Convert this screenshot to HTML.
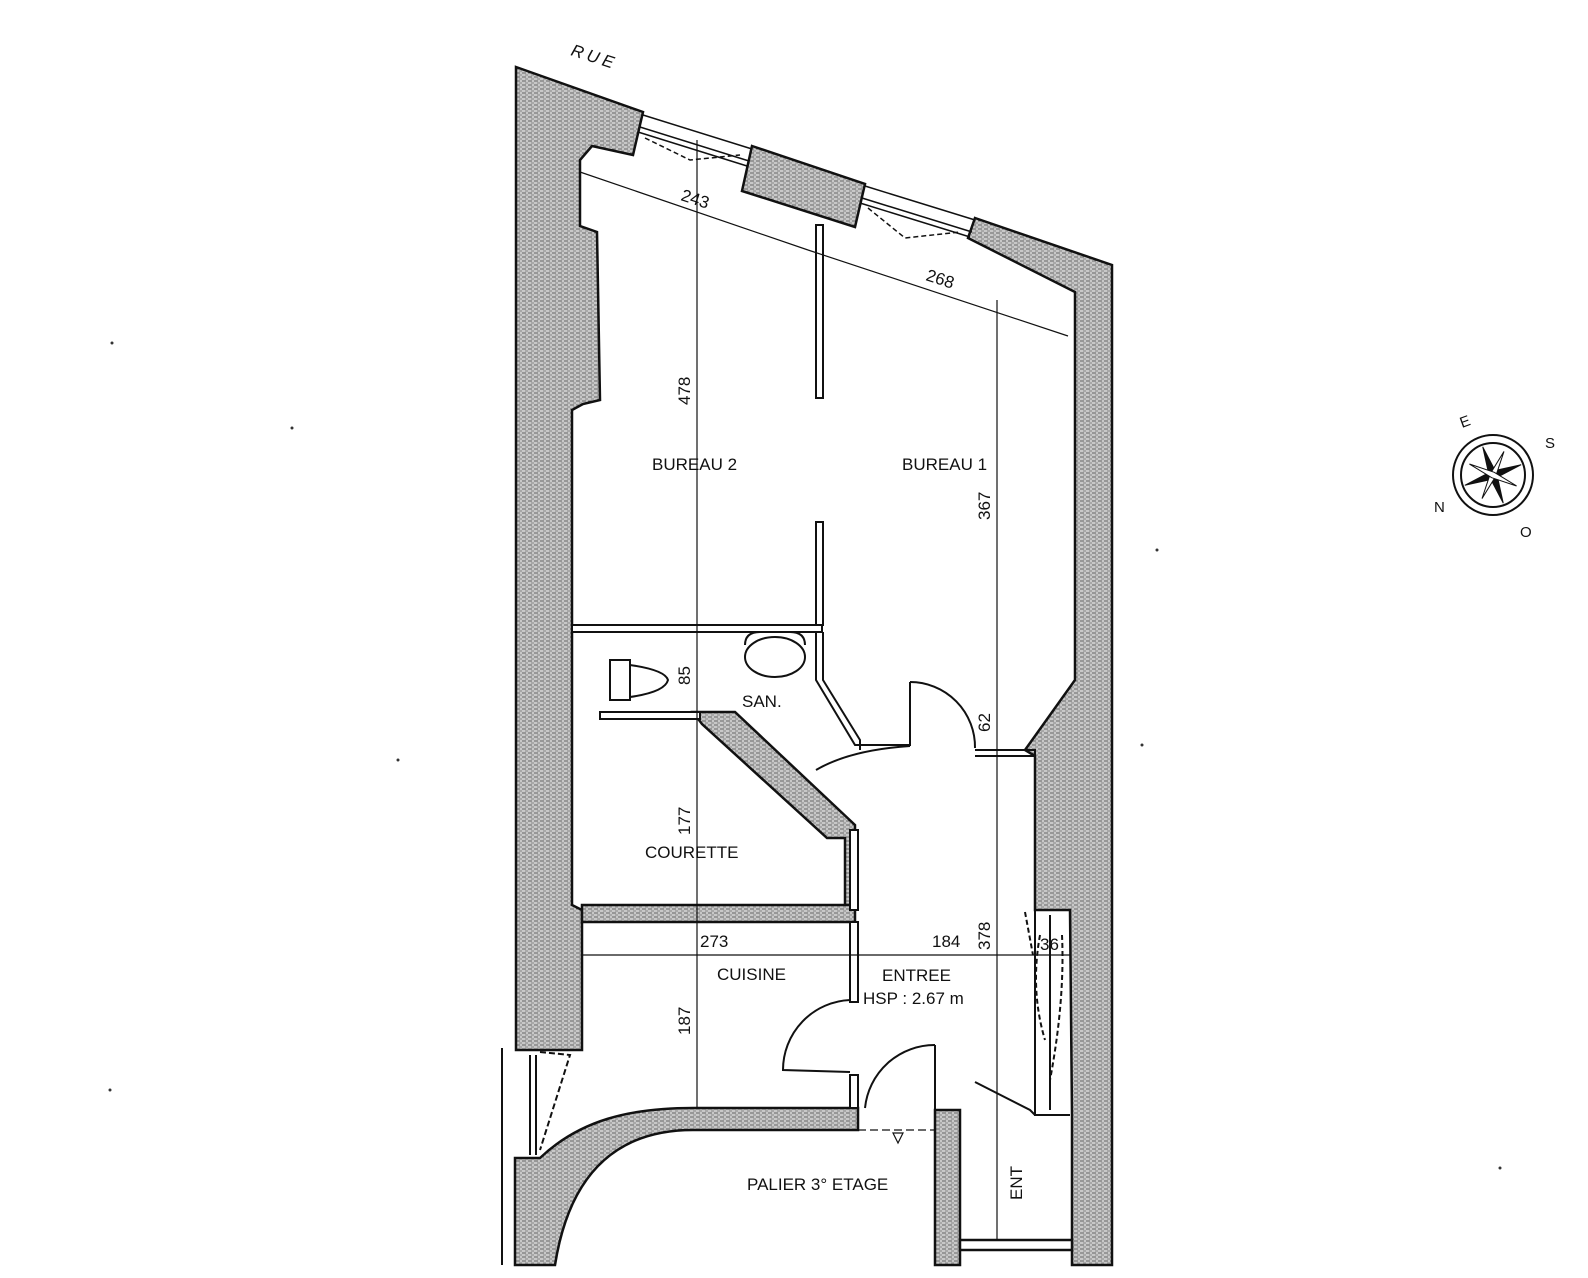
<!DOCTYPE html>
<html><head><meta charset="utf-8"><style>
html,body{margin:0;padding:0;background:#fff}
svg{display:block}
text{font-family:"Liberation Sans",sans-serif;fill:#111}
</style></head><body>
<svg width="1588" height="1278" viewBox="0 0 1588 1278" xmlns="http://www.w3.org/2000/svg">
<defs>
<pattern id="h" width="6" height="4" patternUnits="userSpaceOnUse">
<rect width="6" height="4" fill="#c8c8c8"/>
<line x1="0" y1="1" x2="4" y2="1" stroke="#666" stroke-width="1"/>
<line x1="3" y1="3" x2="6" y2="3" stroke="#888" stroke-width="1"/>
</pattern>
</defs>
<g stroke="#111" stroke-width="2.5" fill="url(#h)" stroke-linejoin="miter">
<!-- left wall -->
<polygon points="516,67 643,112 633,155 592,146 580,160 580,226 597,232 600,400 583,404 572,410 572,905 582,910 582,1050 516,1050"/>
<!-- middle pillar -->
<polygon points="752,146 865,184 855,227 742,191"/>
<!-- right wall -->
<polygon points="975,218 1112,265 1112,1265 1072,1265 1072,1115 1070,910 1035,910 1035,756 1025,750 1075,680 1075,292 968,238"/>
<!-- courette diagonal wall -->
<polygon points="693,712 735,712 855,825 855,905 845,905 845,838 827,838 702,724"/>
<!-- bottom wall between courette and cuisine -->
<polygon points="582,905 855,905 855,922 582,922"/>
<!-- stair curved wall -->
<path d="M515,1158 L540,1158 C580,1120 630,1108 693,1108 L858,1108 L858,1130 L693,1130 C620,1130 570,1170 555,1265 L515,1265 Z"/>
<!-- palier right wall -->
<rect x="935" y="1110" width="25" height="155"/>
<rect x="960" y="1240" width="112" height="10" fill="#fff"/>
</g>
<!-- thin interior walls -->
<g stroke="#111" stroke-width="2" fill="#fff">
<rect x="816" y="225" width="7" height="173"/>
<rect x="816" y="522" width="7" height="103"/>
<rect x="572" y="625" width="250" height="7"/>
<polyline points="816,632 816,680 855,745 910,745 910,682" fill="none"/>
<polyline points="823,632 823,680 860,740 860,750" fill="none"/>
<rect x="600" y="712" width="100" height="7"/>
<rect x="850" y="830" width="8" height="80"/>
<rect x="850" y="922" width="8" height="80"/>
<rect x="850" y="1075" width="8" height="33"/>
<polyline points="975,750 1035,750 1035,756 975,756" fill="none"/>
<polyline points="1035,910 1035,1115 1070,1115" fill="none"/>
<polyline points="975,1082 1030,1110 1035,1115" fill="none"/>
<line x1="1050" y1="915" x2="1050" y2="1110"/>
</g>
<!-- windows -->
<g stroke="#111" stroke-width="1.5" fill="none">
<line x1="643" y1="115" x2="752" y2="149"/><line x1="640" y1="127" x2="749" y2="161"/><line x1="638" y1="132" x2="747" y2="166"/>
<line x1="865" y1="186" x2="975" y2="220"/><line x1="862" y1="198" x2="972" y2="232"/><line x1="860" y1="203" x2="970" y2="237"/>
<path d="M645,138 L690,160 L740,155" stroke-dasharray="5,3"/>
<path d="M868,208 L905,238 L960,232" stroke-dasharray="5,3"/>
</g>
<!-- doors -->
<g stroke="#111" stroke-width="2" fill="none">
<path d="M910,682 A65,65 0 0 1 975,748"/><line x1="910" y1="682" x2="910" y2="745"/>
<path d="M816,770 Q850,750 910,746"/>
<path d="M850,1000 A70,70 0 0 0 783,1070 L850,1072"/>
<path d="M935,1045 A70,70 0 0 0 865,1108"/><line x1="935" y1="1045" x2="935" y2="1110"/>
<path d="M540,1052 L570,1055 L540,1150" stroke-dasharray="6,3"/>
<line x1="530" y1="1055" x2="530" y2="1155"/><line x1="536" y1="1055" x2="536" y2="1155"/>
<line x1="502" y1="1048" x2="502" y2="1265"/>
<path d="M1040,935 Q1030,990 1045,1040 M1062,935 Q1065,1000 1050,1080" stroke-dasharray="5,3"/>
<path d="M1025,912 L1033,955" stroke-dasharray="5,3"/>
<line x1="858" y1="1130" x2="935" y2="1130" stroke-dasharray="8,4" stroke-width="1.2"/>
<polygon points="898,1143 893,1133 903,1133" stroke-width="1.2"/>
</g>
<!-- fixtures -->
<g stroke="#111" stroke-width="2" fill="none">
<ellipse cx="775" cy="657" rx="30" ry="20"/>
<path d="M745,645 Q745,632 760,632 L790,632 Q805,632 805,645"/>
<rect x="610" y="660" width="20" height="40"/>
<path d="M630,665 Q665,670 668,680 Q665,692 630,697"/>
</g>
<!-- dimension lines -->
<g stroke="#111" stroke-width="1.2" fill="none">
<line x1="697" y1="140" x2="697" y2="1108"/>
<line x1="997" y1="300" x2="997" y2="1240"/>
<line x1="580" y1="172" x2="808" y2="250"/>
<line x1="808" y1="250" x2="1068" y2="336"/>
<line x1="583" y1="955" x2="1070" y2="955"/>
</g>
<g font-size="17">
<text x="652" y="470">BUREAU 2</text>
<text x="902" y="470">BUREAU 1</text>
<text x="742" y="707">SAN.</text>
<text x="645" y="858">COURETTE</text>
<text x="717" y="980">CUISINE</text>
<text x="882" y="981">ENTREE</text>
<text x="863" y="1004">HSP : 2.67 m</text>
<text x="747" y="1190">PALIER 3° ETAGE</text>
<text x="700" y="947">273</text>
<text x="932" y="947">184</text>
<text x="1040" y="950">36</text>
<text transform="translate(680,200) rotate(18)">243</text>
<text transform="translate(925,280) rotate(18)">268</text>
<text transform="translate(690,405) rotate(-90)">478</text>
<text transform="translate(990,520) rotate(-90)">367</text>
<text transform="translate(690,685) rotate(-90)">85</text>
<text transform="translate(990,732) rotate(-90)">62</text>
<text transform="translate(690,835) rotate(-90)">177</text>
<text transform="translate(990,950) rotate(-90)">378</text>
<text transform="translate(690,1035) rotate(-90)">187</text>
<text transform="translate(1022,1200) rotate(-90)">ENT</text>
<text transform="translate(570,55) rotate(18)" letter-spacing="4" font-style="italic">RUE</text>
</g>
<!-- compass -->
<g transform="translate(1493,475)" stroke="#111" fill="none" stroke-width="2">
<circle r="40"/><circle r="32"/>
<g fill="#111" stroke-width="1">
<polygon points="0,-30 4,0 0,30 -4,0" transform="rotate(-20)"/>
<polygon points="-30,0 0,4 30,0 0,-4" transform="rotate(-20)"/>
<polygon points="0,-26 3,0 0,26 -3,0" transform="rotate(25)" fill="#fff"/>
<polygon points="-26,0 0,3 26,0 0,-3" transform="rotate(25)" fill="#fff"/>
</g>
</g>
<g font-size="15">
<text x="1462" y="428" transform="rotate(-20 1462 428)">E</text>
<text x="1545" y="448">S</text>
<text x="1434" y="512">N</text>
<text x="1520" y="537">O</text>
</g>
<g fill="#333">
<circle cx="112" cy="343" r="1.5"/><circle cx="292" cy="428" r="1.5"/><circle cx="398" cy="760" r="1.5"/>
<circle cx="110" cy="1090" r="1.5"/><circle cx="1157" cy="550" r="1.5"/><circle cx="1142" cy="745" r="1.5"/>
<circle cx="1500" cy="1168" r="1.5"/>
</g>
</svg>
</body></html>
